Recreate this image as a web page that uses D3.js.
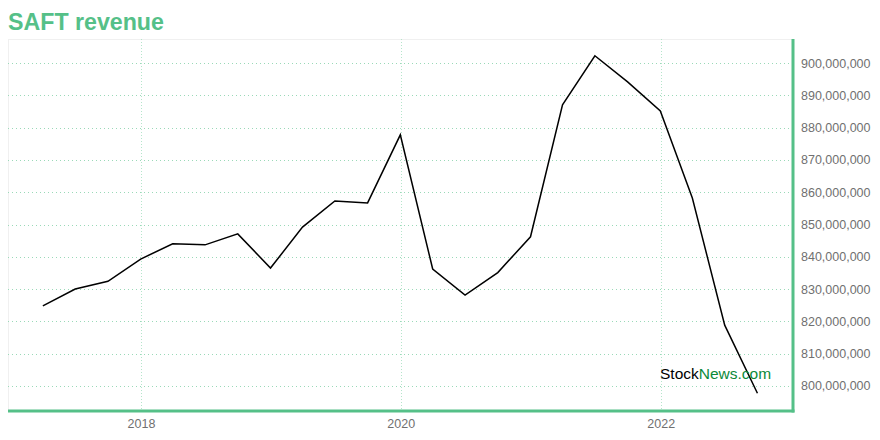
<!DOCTYPE html>
<html><head><meta charset="utf-8">
<script src="https://cdn.jsdelivr.net/npm/d3@7"></script>
<style>body{margin:0;background:#fff;} svg{display:block;font-family:"Liberation Sans",Arial,sans-serif;}</style>
</head><body>
<svg id="c" width="880" height="440"></svg>
<script>
const dates = ["2017-03-31","2017-06-30","2017-09-30","2017-12-31","2018-03-31","2018-06-30","2018-09-30","2018-12-31","2019-03-31","2019-06-30","2019-09-30","2019-12-31","2020-03-31","2020-06-30","2020-09-30","2020-12-31","2021-03-31","2021-06-30","2021-09-30","2021-12-31","2022-03-31","2022-06-30","2022-09-30"];
const revenue = [824.8,830.0,832.4,839.3,844.0,843.7,847.1,836.5,849.2,857.3,856.7,877.8,836.2,828.1,835.1,846.2,887.1,902.3,894.2,885.2,858.2,818.8,797.7].map(v=>v*1e6);
const yTicks = [800,810,820,830,840,850,860,870,880,890,900].map(v=>v*1e6);
const xTicks = ["2018-01-01","2020-01-01","2022-01-01"];
const title = "SAFT revenue";

(function(){
const svg = d3.select("#c");
const pL=8, pR=793, pT=39, pB=411;
const parse = d3.utcParse("%Y-%m-%d");
const x = d3.scaleUtc().domain([parse("2016-12-23"), parse("2023-01-08")]).range([pL,pR]);
const y = d3.scaleLinear().domain([792.2e6, 907.5e6]).range([pB,pT]);
const green = "#55c088";

// frame
svg.append("line").attr("x1",pL).attr("x2",pR).attr("y1",pT+0.5).attr("y2",pT+0.5).attr("stroke","#f0f0f0");
svg.append("line").attr("x1",pL+0.5).attr("x2",pL+0.5).attr("y1",pT).attr("y2",pB).attr("stroke","#f0f0f0");

// grid
svg.append("g").selectAll("line").data(yTicks).join("line")
  .attr("x1",pL).attr("x2",pR).attr("y1",d=>Math.round(y(d))+0.5).attr("y2",d=>Math.round(y(d))+0.5)
  .attr("stroke","#9ad9b8").attr("stroke-dasharray","1,3");
svg.append("g").selectAll("line").data(xTicks).join("line")
  .attr("x1",d=>Math.round(x(parse(d)))+0.5).attr("x2",d=>Math.round(x(parse(d)))+0.5).attr("y1",pT).attr("y2",pB)
  .attr("stroke","#b5e5cb").attr("stroke-dasharray","1,2");

// axes
const fmt = d3.format(",");
const ya = svg.append("g").attr("transform",`translate(${pR},0)`)
  .call(d3.axisRight(y).tickValues(yTicks).tickFormat(fmt).tickSize(0).tickPadding(8));
ya.select(".domain").remove();
ya.selectAll("text").attr("fill","#707070").attr("font-size","12.5px").attr("font-family","Liberation Sans, Arial, sans-serif");
const xa = svg.append("g").attr("transform",`translate(0,${pB})`)
  .call(d3.axisBottom(x).tickValues(xTicks.map(parse)).tickFormat(d3.utcFormat("%Y")).tickSize(0).tickPadding(8));
xa.select(".domain").remove();
xa.selectAll("text").attr("fill","#707070").attr("font-size","12.5px").attr("font-family","Liberation Sans, Arial, sans-serif");

svg.append("line").attr("x1",pR).attr("x2",pR).attr("y1",pT).attr("y2",pB+1.5).attr("stroke",green).attr("stroke-width",3);
svg.append("line").attr("x1",pL).attr("x2",pR+1.5).attr("y1",pB).attr("y2",pB).attr("stroke",green).attr("stroke-width",3);

// line
const line = d3.line().x((d,i)=>x(parse(dates[i]))).y(d=>y(d));
svg.append("path").datum(revenue).attr("d",line).attr("fill","none").attr("stroke","#000").attr("stroke-width",1.5);

// watermark
const wm = svg.append("text").attr("x",660).attr("y",379).attr("font-size","15.5px");
wm.append("tspan").text("Stock").attr("fill","#000");
wm.append("tspan").text("News.com").attr("fill","#0b8a3a");

// title
svg.append("text").attr("x",8).attr("y",30).text(title).attr("fill",green).attr("font-weight","bold").attr("font-size","23.2px");
})();
</script>
</body></html>
